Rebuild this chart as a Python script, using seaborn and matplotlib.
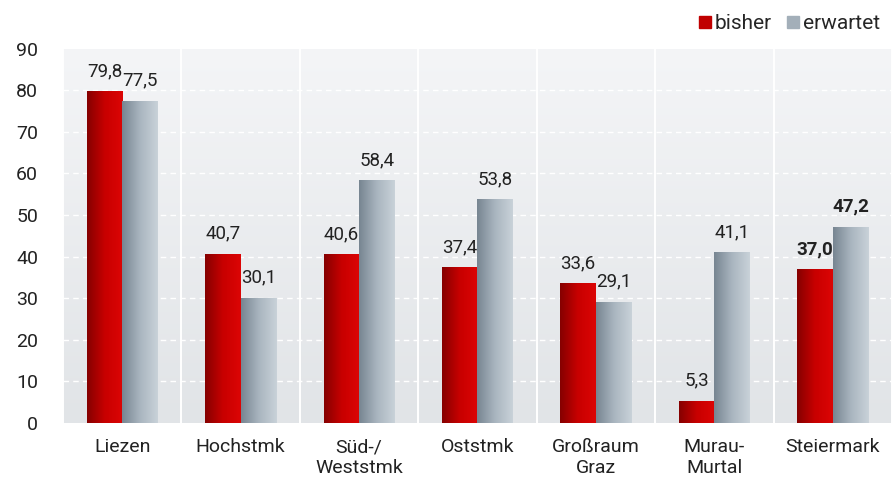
import numpy as np
import pandas as pd
import matplotlib
matplotlib.use("Agg")
import matplotlib.pyplot as plt
from matplotlib.colors import LinearSegmentedColormap
from matplotlib.lines import Line2D
import seaborn as sns

categories = ["Liezen", "Hochstmk", "Süd-/\nWeststmk", "Oststmk", "Großraum\nGraz", "Murau-\nMurtal", "Steiermark"]
bisher = [79.8, 40.7, 40.6, 37.4, 33.6, 5.3, 37.0]
erwartet = [77.5, 30.1, 58.4, 53.8, 29.1, 41.1, 47.2]
series = ["bisher", "erwartet"]
yticks = [0, 10, 20, 30, 40, 50, 60, 70, 80, 90]

sns.set_theme(style="white")
plt.rcParams["font.family"] = ["Roboto", "DejaVu Sans"]

df = pd.DataFrame({
    "cat": categories * 2,
    "val": bisher + erwartet,
    "series": [series[0]] * len(categories) + [series[1]] * len(categories),
})

fig = plt.figure(figsize=(8.92, 4.8), dpi=100)
ax = fig.add_axes([63 / 892, 1 - 423 / 480, 1 - 63 / 892, (423 - 48.6) / 480])

red_solid = "#c00000"
gray_solid = "#a3afb9"
sns.barplot(data=df, x="cat", y="val", hue="series", palette=[red_solid, gray_solid],
            width=0.6, gap=0, ax=ax, legend=False, saturation=1, zorder=3,
            linewidth=0, edgecolor="none")

ax.set_xlim(-0.5, len(categories) - 0.5)
ax.set_ylim(0, 90)

# background gradient
bg = LinearSegmentedColormap.from_list("bg", ["#e1e4e7", "#f4f5f7"])
grad = np.linspace(0, 1, 256).reshape(-1, 1)
ax.imshow(grad, cmap=bg, origin="lower", aspect="auto",
          extent=[-0.5, len(categories) - 0.5, 0, 90], zorder=0)

# white grid
for y in yticks[1:-1]:
    ax.axhline(y, color="white", lw=1.0, ls=(0, (4, 3)), zorder=1)
for i in range(len(categories) + 1):
    ax.axvline(i - 0.5, color="white", lw=1.4, zorder=1)

# gradient bars
red_cm = LinearSegmentedColormap.from_list("r", ["#850000", "#c80000", "#dc0505"])
gray_cm = LinearSegmentedColormap.from_list("g", ["#778591", "#a9b5bf", "#c9d2d9"])
hgrad = np.linspace(0, 1, 256).reshape(1, -1)
bars = [p for p in ax.patches if p.get_height() > 0]
for p in bars:
    x, w, h = p.get_x(), p.get_width(), p.get_height()
    fc = p.get_facecolor()
    cm = red_cm if fc[0] > 0.7 and fc[1] < 0.3 else gray_cm
    im = ax.imshow(hgrad, cmap=cm, aspect="auto", extent=[x, x + w, 0, h], zorder=4)
    im.set_clip_path(p)
ax.set_xlim(-0.5, len(categories) - 0.5)
ax.set_ylim(0, 90)

# value labels
for i, cat in enumerate(categories):
    for j, vals in enumerate([bisher, erwartet]):
        v = vals[i]
        xpos = i + (-0.15 if j == 0 else 0.15)
        bold = cat == "Steiermark"
        ax.annotate(f"{v:.1f}".replace(".", ","), (xpos, v), xytext=(0, 8),
                    textcoords="offset points", ha="center", va="bottom",
                    fontsize=13.5, color="#222222",
                    fontweight="bold" if bold else "normal", zorder=5)

ax.set_yticks(yticks)
ax.set_xlabel("")
ax.set_ylabel("")
for s in ax.spines.values():
    s.set_visible(False)
ax.tick_params(axis="both", length=0, labelsize=14, colors="#222222")
ax.tick_params(axis="y", pad=18)
ax.tick_params(axis="x", pad=11)
ax.grid(False)

handles = [Line2D([], [], marker="s", ls="", markersize=9, color=red_solid),
           Line2D([], [], marker="s", ls="", markersize=9, color=gray_solid)]
fig.legend(handles, series, loc="upper right", bbox_to_anchor=(1.008, 1.01), ncol=2,
           frameon=False, fontsize=15, handletextpad=0.12, columnspacing=0.7,
           handlelength=0.7)

fig.savefig("out.png", dpi=100)
